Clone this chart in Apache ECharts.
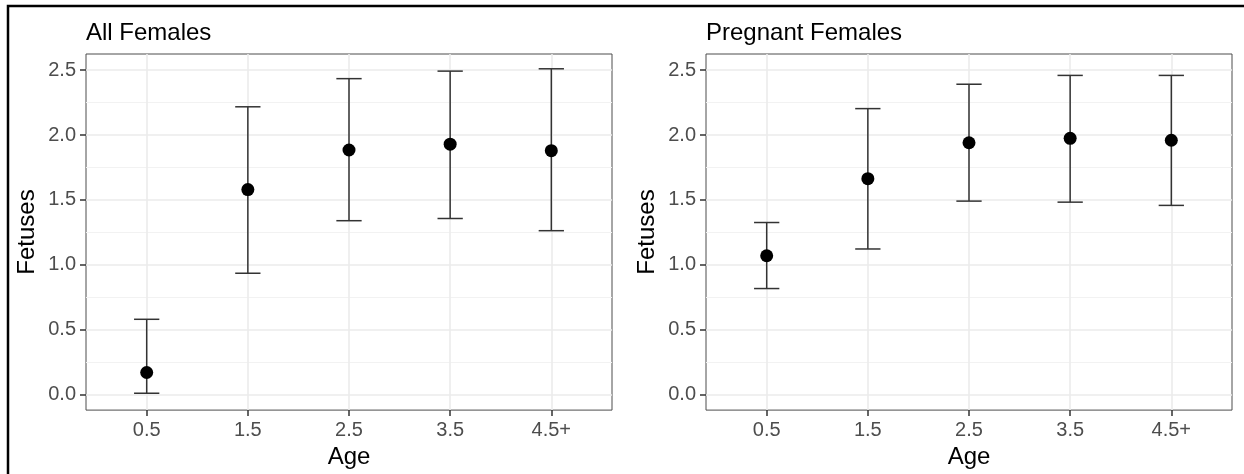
<!DOCTYPE html>
<html>
<head>
<meta charset="utf-8">
<title>Fetuses by age</title>
<script src="https://cdn.jsdelivr.net/npm/echarts@6/dist/echarts.min.js"></script>
<style>
  html, body { margin: 0; padding: 0; background: #fff; }
  #chart { width: 1244px; height: 474px; }
</style>
</head>
<body>
<div id="chart"></div>
<script>
// ages on the x axis (discrete)
const ageLabels = ['0.5', '1.5', '2.5', '3.5', '4.5+']

// All Females: mean with lower / upper error bar ends
const allMean = [0.17, 1.58, 1.885, 1.93, 1.88]
const allLower = [0.01, 0.935, 1.34, 1.357, 1.263]
const allUpper = [0.58, 2.218, 2.435, 2.493, 2.511]

// Pregnant Females
const pregMean = [1.07, 1.664, 1.941, 1.975, 1.96]
const pregLower = [0.817, 1.122, 1.491, 1.483, 1.458]
const pregUpper = [1.326, 2.204, 2.392, 2.46, 2.46]

// y tick labels and minor grid positions
const yTicks = [0, 0.5, 1, 1.5, 2, 2.5]
const yMinor = [0.25, 0.75, 1.25, 1.75, 2.25]

const FONT = '"Liberation Sans", Arial, Helvetica, sans-serif'
const xTickValues = ageLabels.map((_, i) => i)

const panels = [
  { title: 'All Females', mean: allMean, lower: allLower, upper: allUpper, left: 86 },
  { title: 'Pregnant Females', mean: pregMean, lower: pregLower, upper: pregUpper, left: 706 },
]

function errorBarItem(params, api) {
  const x = api.value(0)
  const lo = api.coord([x, api.value(1)])
  const hi = api.coord([x, api.value(2)])
  const loL = api.coord([x - 0.125, api.value(1)])
  const loR = api.coord([x + 0.125, api.value(1)])
  const hiL = api.coord([x - 0.125, api.value(2)])
  const hiR = api.coord([x + 0.125, api.value(2)])
  const style = { stroke: '#333333', lineWidth: 1.5 }
  return {
    type: 'group',
    children: [
      { type: 'line', shape: { x1: lo[0], y1: lo[1], x2: hi[0], y2: hi[1] }, style },
      { type: 'line', shape: { x1: loL[0], y1: loL[1], x2: loR[0], y2: loR[1] }, style },
      { type: 'line', shape: { x1: hiL[0], y1: hiL[1], x2: hiR[0], y2: hiR[1] }, style },
    ],
  }
}

const grid = []
const xAxis = []
const yAxis = []
const series = []
const title = []

panels.forEach((p, k) => {
  grid.push({
    left: p.left,
    top: 54,
    width: 526,
    height: 358,
    show: true,
    borderColor: '#4d4d4d',
    borderWidth: 1,
    backgroundColor: '#fff',
  })
  title.push({
    text: p.title,
    left: p.left,
    top: 21,
    padding: 0,
    textStyle: { fontFamily: FONT, fontSize: 24, fontWeight: 'normal', color: '#000' },
  })
  xAxis.push({
    type: 'value',
    gridIndex: k,
    min: -0.6,
    max: 4.6,
    name: 'Age',
    nameLocation: 'middle',
    nameGap: 33,
    nameTextStyle: { fontFamily: FONT, fontSize: 24, color: '#000' },
    axisLine: { show: false, onZero: false },
    axisTick: { show: true, length: 6, customValues: xTickValues, lineStyle: { color: '#333', width: 1.5 } },
    axisLabel: {
      customValues: xTickValues,
      margin: 10,
      fontFamily: FONT,
      fontSize: 20,
      color: '#4d4d4d',
      formatter: v => ageLabels[Math.round(v)],
    },
    splitLine: { show: true, lineStyle: { color: '#ebebeb', width: 1.6 } },
  })
  // major y axis
  yAxis.push({
    type: 'value',
    gridIndex: k,
    min: -0.12,
    max: 2.625,
    name: 'Fetuses',
    nameLocation: 'middle',
    nameGap: 47,
    nameTextStyle: { fontFamily: FONT, fontSize: 24, color: '#000' },
    axisLine: { show: false, onZero: false },
    axisTick: { show: true, length: 6, customValues: yTicks, lineStyle: { color: '#333', width: 1.5 } },
    axisLabel: {
      customValues: yTicks,
      margin: 10,
      fontFamily: FONT,
      fontSize: 20,
      color: '#4d4d4d',
      formatter: v => v.toFixed(1),
    },
    splitLine: { show: true, lineStyle: { color: '#ebebeb', width: 1.6 } },
  })
  // minor grid lines only
  yAxis.push({
    type: 'value',
    gridIndex: k,
    min: -0.12,
    max: 2.625,
    axisLine: { show: false, onZero: false },
    axisTick: { show: false, customValues: yMinor },
    axisLabel: { show: false },
    splitLine: { show: true, lineStyle: { color: '#f2f2f2', width: 1 } },
  })

  series.push({
    type: 'custom',
    xAxisIndex: k,
    yAxisIndex: k * 2,
    renderItem: errorBarItem,
    encode: { x: 0, y: [1, 2] },
    data: p.mean.map((_, i) => [i, p.lower[i], p.upper[i]]),
    z: 3,
    silent: true,
  })
  series.push({
    type: 'scatter',
    xAxisIndex: k,
    yAxisIndex: k * 2,
    symbol: 'circle',
    symbolSize: 13,
    itemStyle: { color: '#000', opacity: 1 },
    data: p.mean.map((v, i) => [i, v]),
    z: 4,
    silent: true,
  })
})

const chart = echarts.init(document.getElementById('chart'), null, { renderer: 'canvas' })
chart.setOption({
  animation: false,
  backgroundColor: '#fff',
  title,
  grid,
  xAxis,
  yAxis,
  series,
  graphic: [{
    type: 'rect',
    silent: true,
    z: 100,
    shape: { x: 8, y: 6, width: 1400, height: 600 },
    style: { fill: 'none', stroke: '#000', lineWidth: 2.5 },
  }],
})
</script>
</body>
</html>
